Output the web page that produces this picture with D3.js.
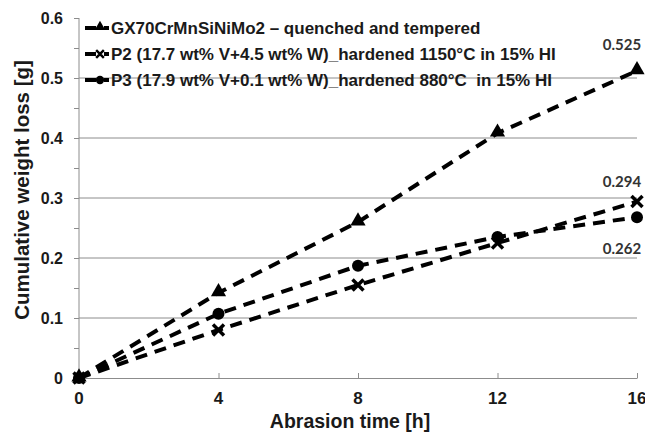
<!DOCTYPE html>
<html>
<head>
<meta charset="utf-8">
<script src="https://cdn.jsdelivr.net/npm/d3@7"></script>
<style>
  body { margin: 0; background: #fff; }
  svg { display: block; font-family: "Liberation Sans", Arial, sans-serif; }
  text { white-space: pre; }
</style>
</head>
<body>
<div id="canvas"></div>
<script>
"use strict"

let svgWidth = 645
let svgHeight = 432

/* data */
let hours = [0, 4, 8, 12, 16]
let gxValues = [0, 0.142, 0.26, 0.408, 0.512]
let p2Values = [0, 0.08, 0.155, 0.225, 0.294]
let p3Values = [0, 0.107, 0.187, 0.235, 0.268]
let seriesNames = [
  "GX70CrMnSiNiMo2 \u2013 quenched and tempered",
  "P2 (17.7 wt% V+4.5 wt% W)_hardened 1150\u00b0C in 15% HI",
  "P3 (17.9 wt% V+0.1 wt% W)_hardened 880\u00b0C  in 15% HI"
]
let seriesSymbols = ["triangle", "cross", "circle"]
let xTicks = [0, 4, 8, 12, 16]
let yTicks = [0, 0.1, 0.2, 0.3, 0.4, 0.5, 0.6]
let endLabels = ["0.525", "0.294", "0.262"]

let series = [gxValues, p2Values, p3Values].map((vals, i) => ({
  name: seriesNames[i],
  symbol: seriesSymbols[i],
  points: hours.map((h, j) => ({x: h, y: vals[j]}))
}))

let svg = d3.select("#canvas")
  .append("svg")
  .attr("width", svgWidth)
  .attr("height", svgHeight)

/* scales */
let xScale = d3.scaleLinear().domain([0, 16]).range([79, 637])
let yScale = d3.scaleLinear().domain([0, 0.6]).range([378, 18])

/* gridlines */
svg.selectAll(".grid")
  .data(yTicks.filter(d => d > 0 && d < 0.6))
  .join("line")
  .attr("x1", xScale(0))
  .attr("x2", xScale(16))
  .attr("y1", d => yScale(d))
  .attr("y2", d => yScale(d))
  .attr("stroke", "#8c8c8c")
  .attr("stroke-width", 1)

/* y axis with ticks every 0.05 */
let yAxis = d3.axisLeft(yScale)
  .tickValues(d3.range(0, 0.601, 0.05))
  .tickSize(5)
  .tickFormat("")
let yG = svg.append("g")
  .attr("transform", "translate(" + xScale(0) + ",0)")
  .call(yAxis)
yG.selectAll("path, line").attr("stroke", "#8c8c8c")
yG.select(".domain").attr("d", "M0," + yScale(0.6) + "V" + yScale(0))

yTicks.forEach(t => {
  svg.append("text")
    .attr("x", 63)
    .attr("y", yScale(t) + 6)
    .attr("text-anchor", "end")
    .attr("font-size", "16px")
    .attr("font-weight", "bold")
    .attr("fill", "#1a1a1a")
    .text(t === 0 ? "0" : t.toFixed(1))
})

/* x axis, ticks pointing up */
let xAxis = d3.axisBottom(xScale)
  .tickValues(xTicks)
  .tickSizeInner(-5)
  .tickSizeOuter(0)
  .tickFormat("")
let xG = svg.append("g")
  .attr("transform", "translate(0," + yScale(0) + ")")
  .call(xAxis)
xG.selectAll("path, line").attr("stroke", "#8c8c8c")

xTicks.forEach(t => {
  svg.append("text")
    .attr("x", xScale(t))
    .attr("y", 404)
    .attr("text-anchor", "middle")
    .attr("font-size", "17px")
    .attr("font-weight", "bold")
    .attr("fill", "#1a1a1a")
    .text(t)
})

/* axis titles */
svg.append("text")
  .attr("x", 350)
  .attr("y", 428)
  .attr("text-anchor", "middle")
  .attr("font-size", "19.5px")
  .attr("font-weight", "bold")
  .attr("fill", "#1a1a1a")
  .text("Abrasion time [h]")

svg.append("text")
  .attr("transform", "translate(29,190) rotate(-90)")
  .attr("text-anchor", "middle")
  .attr("font-size", "20.5px")
  .attr("font-weight", "bold")
  .attr("fill", "#1a1a1a")
  .text("Cumulative weight loss [g]")

/* markers */
function drawMarker(g, type, x, y, k) {
  if (type === "triangle") {
    g.append("path")
      .attr("d", d3.symbol().type(d3.symbolTriangle).size(100 * k * k))
      .attr("transform", "translate(" + x + "," + (y - 1) + ")")
      .attr("fill", "#000")
  } else if (type === "circle") {
    g.append("circle")
      .attr("cx", x).attr("cy", y).attr("r", 6 * k)
      .attr("fill", "#000")
  } else {
    let r = 5.5 * k
    g.append("path")
      .attr("d", "M" + -r + "," + -r + "L" + r + "," + r + "M" + -r + "," + r + "L" + r + "," + -r)
      .attr("transform", "translate(" + x + "," + y + ")")
      .attr("stroke", "#000")
      .attr("stroke-width", 3.5 * k)
  }
}

let line = d3.line()
  .x(d => xScale(d.x))
  .y(d => yScale(d.y))

series.forEach(s => {
  svg.append("path")
    .datum(s.points)
    .attr("d", line)
    .attr("fill", "none")
    .attr("stroke", "#000")
    .attr("stroke-width", 4)
    .attr("stroke-dasharray", "12,8")
  let g = svg.append("g")
  s.points.forEach(p => drawMarker(g, s.symbol, xScale(p.x), yScale(p.y), 1))
})

/* end labels */
let labelFont = "Lato, 'Open Sans', sans-serif"
let labelY = [50, 187, 254]
endLabels.forEach((lab, i) => {
  svg.append("text")
    .attr("x", 622)
    .attr("y", labelY[i])
    .attr("text-anchor", "middle")
    .attr("font-family", labelFont)
    .attr("font-size", "15px")
    .attr("font-weight", "bold")
    .attr("fill", "#333")
    .text(lab)
})

/* legend */
series.forEach((s, i) => {
  let ly = 28 + i * 26
  svg.append("line")
    .attr("x1", 85).attr("x2", 96)
    .attr("y1", ly).attr("y2", ly)
    .attr("stroke", "#000").attr("stroke-width", 4)
  svg.append("line")
    .attr("x1", 104).attr("x2", 109)
    .attr("y1", ly).attr("y2", ly)
    .attr("stroke", "#000").attr("stroke-width", 4)
  drawMarker(svg.append("g"), s.symbol, 100, ly, 0.7)
  svg.append("text")
    .attr("x", 111)
    .attr("y", ly + 6)
    .attr("font-size", "17px")
    .attr("font-weight", "bold")
    .attr("fill", "#1a1a1a")
    .text(s.name)
})
</script>
</body>
</html>
